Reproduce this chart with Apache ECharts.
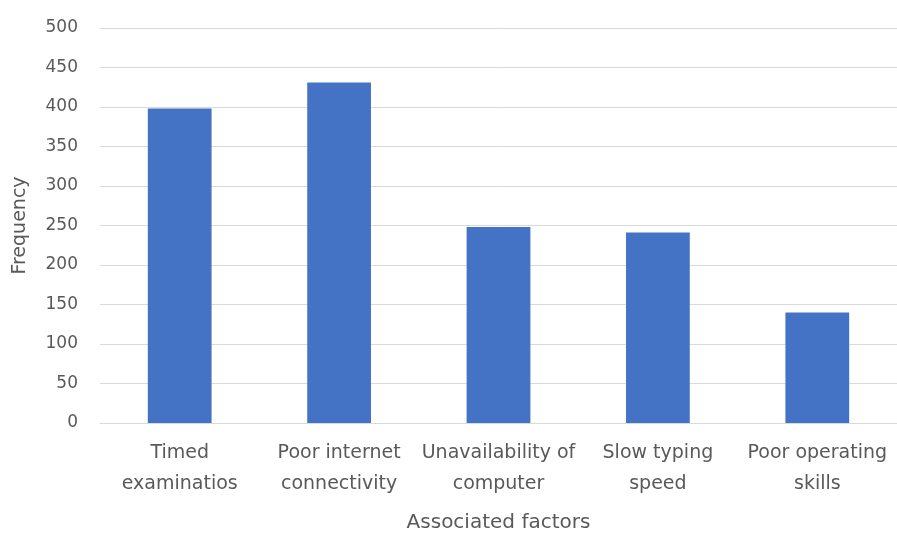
<!DOCTYPE html>
<html>
<head>
<meta charset="utf-8">
<script src="https://cdn.jsdelivr.net/npm/echarts@6/dist/echarts.min.js"></script>
<style>
  html, body { margin: 0; padding: 0; background: #ffffff; }
  #chart { width: 897px; height: 538px; }
</style>
</head>
<body>
<div id="chart"></div>
<script>
// Factors associated with computer-based examinations, and how often each was reported
const categories = [
  'Timed\nexaminatios',
  'Poor internet\nconnectivity',
  'Unavailability of\ncomputer',
  'Slow typing\nspeed',
  'Poor operating\nskills'
];
const frequency = [398, 431, 248, 241, 140];
const yTicks = { min: 0, max: 500, interval: 50 };
const xAxisTitle = 'Associated factors';
const yAxisTitle = 'Frequency';

const textColor = '#595959';
const fontFamily = '"DejaVu Sans", sans-serif';

const chart = echarts.init(document.getElementById('chart'), null, { renderer: 'canvas' });
chart.setOption({
  backgroundColor: '#ffffff',
  animation: false,
  grid: { left: 100, right: -1, top: 28, bottom: 109, containLabel: false },
  xAxis: {
    type: 'category',
    data: categories,
    name: xAxisTitle,
    nameLocation: 'middle',
    nameGap: 90,
    nameTextStyle: { color: textColor, fontFamily: fontFamily, fontSize: 20 },
    axisLine: { show: true, lineStyle: { color: '#d9d9d9', width: 1 } },
    axisTick: { show: false },
    axisLabel: {
      color: textColor, fontFamily: fontFamily, fontSize: 19,
      lineHeight: 31, margin: 15, interval: 0
    }
  },
  yAxis: {
    type: 'value',
    min: yTicks.min,
    max: yTicks.max,
    interval: yTicks.interval,
    name: yAxisTitle,
    nameLocation: 'middle',
    nameGap: 70,
    nameTextStyle: { color: textColor, fontFamily: fontFamily, fontSize: 19 },
    axisLine: { show: false },
    axisTick: { show: false },
    axisLabel: { color: textColor, fontFamily: fontFamily, fontSize: 17, margin: 22 },
    splitLine: { show: true, lineStyle: { color: '#d9d9d9', width: 1 } }
  },
  series: [{
    type: 'bar',
    data: frequency,
    barCategoryGap: '60%',
    itemStyle: { color: '#4472c4' }
  }]
});
</script>
</body>
</html>
